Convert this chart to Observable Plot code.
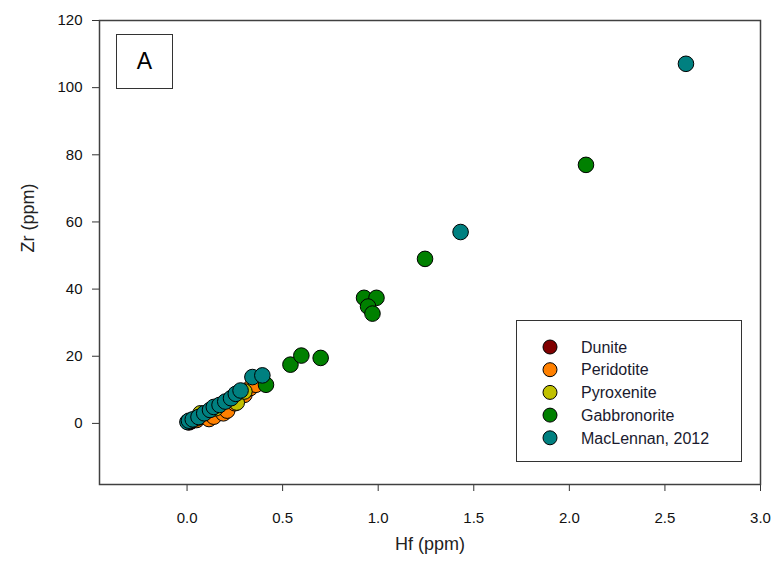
<!DOCTYPE html>
<html>
<head>
<meta charset="utf-8">
<script src="https://cdn.jsdelivr.net/npm/d3@7"></script>
<script src="https://cdn.jsdelivr.net/npm/@observablehq/plot@0.6"></script>
<style>
  html, body { margin: 0; padding: 0; background: #fff; }
  #wrap { position: relative; width: 778px; height: 565px; font-family: "Liberation Sans", Arial, sans-serif; }
  #panel { position: absolute; left: 116px; top: 34px; width: 55px; height: 53px; border: 1.5px solid #333;
           display: flex; align-items: center; justify-content: center; font-size: 23px; background: #fff; }
  #legend { position: absolute; left: 516px; top: 320px; width: 224px; height: 140px; border: 1.5px solid #333; background: #fff; }
</style>
</head>
<body>
<div id="wrap"></div>
<script>
// Categories and colours
const groups = ["Dunite", "Peridotite", "Pyroxenite", "Gabbronorite", "MacLennan, 2012"];
const colors = ["#800000", "#ff8000", "#c0c000", "#008000", "#008080"];

// Tick values
const xTicks = [0, 0.5, 1.0, 1.5, 2.0, 2.5, 3.0];
const yTicks = [0, 20, 40, 60, 80, 100, 120];

// Series values (Hf ppm, Zr ppm)
const duniteHf = [0.01, 0.02, 0.03, 0.05];
const duniteZr = [0.3, 0.6, 0.9, 1.2];

const peridotiteHf = [0.05, 0.08, 0.115, 0.14, 0.19, 0.21, 0.25, 0.30, 0.33, 0.36];
const peridotiteZr = [1.0, 2.0, 1.3, 2.0, 3.0, 3.8, 6.0, 8.5, 10.5, 11.5];

const pyroxeniteHf = [0.05, 0.07, 0.15, 0.26, 0.30];
const pyroxeniteZr = [1.5, 3.0, 4.5, 6.2, 9.5];

const gabbroHf = [0.413, 0.541, 0.598, 0.699, 0.926, 0.991, 0.947, 0.970, 1.245, 2.087];
const gabbroZr = [11.5, 17.5, 20.2, 19.5, 37.4, 37.4, 34.8, 32.7, 49.0, 77.0];

const macHf = [0.002, 0.01, 0.03, 0.06, 0.09, 0.12, 0.14, 0.17, 0.20, 0.23, 0.255, 0.28, 0.342, 0.394, 1.431, 2.61];
const macZr = [0.4, 0.8, 1.2, 1.9, 3.0, 4.0, 4.9, 5.5, 6.5, 7.5, 8.8, 9.8, 13.8, 14.3, 57.0, 107.1];

const series = [
  [groups[0], duniteHf, duniteZr],
  [groups[1], peridotiteHf, peridotiteZr],
  [groups[2], pyroxeniteHf, pyroxeniteZr],
  [groups[3], gabbroHf, gabbroZr],
  [groups[4], macHf, macZr]
];
const data = series.flatMap(([g, xs, ys]) => xs.map((x, i) => ({group: g, hf: x, zr: ys[i]})));

const chart = Plot.plot({
  width: 778,
  height: 565,
  marginLeft: 99,
  marginRight: 18,
  marginTop: 20,
  marginBottom: 81,
  style: { fontFamily: "'Liberation Sans', Arial, sans-serif", fontSize: "15px", color: "#111", background: "#fff" },
  x: { domain: [-0.458, 3.0] },
  y: { domain: [-18.2, 120] },
  color: { domain: groups, range: colors },
  marks: [
    Plot.axisX({ ticks: xTicks, tickFormat: d3.format(".1f"), tickSize: 7, tickPadding: 21, label: null, fontSize: 15, stroke: "#333" }),
    Plot.axisY({ ticks: yTicks, tickSize: 7, tickPadding: 10, label: null, fontSize: 15, stroke: "#333" }),
    Plot.frame({ stroke: "#404040", strokeWidth: 1.5 }),
    Plot.dot(data, { x: "hf", y: "zr", fill: "group", r: 7.8, stroke: "#000", strokeWidth: 1, fillOpacity: 1 }),
    Plot.text(["Hf (ppm)"], { frameAnchor: "bottom", dy: 65, text: d => d, fontSize: 18, fill: "#222" }),
    Plot.text(["Zr (ppm)"], { frameAnchor: "left", dx: -71, rotate: -90, text: d => d, fontSize: 18, fill: "#222" })
  ]
});

const wrap = document.getElementById("wrap");
wrap.appendChild(chart);

// Panel label
const panel = document.createElement("div");
panel.id = "panel";
panel.textContent = "A";
wrap.appendChild(panel);

// Legend
const legend = document.createElement("div");
legend.id = "legend";
wrap.appendChild(legend);
const lsvg = d3.select(legend).append("svg").attr("width", 224).attr("height", 140);
const row = lsvg.selectAll("g").data(groups).join("g")
  .attr("transform", (d, i) => `translate(0, ${26 + i * 22.7})`);
row.append("circle").attr("cx", 33).attr("cy", 0).attr("r", 7).attr("fill", (d, i) => colors[i]).attr("stroke", "#000").attr("stroke-width", 1);
row.append("text").attr("x", 64).attr("y", 0).attr("dy", "0.36em").attr("font-size", 16)
  .attr("font-family", "'Liberation Sans', Arial, sans-serif").attr("fill", "#1a1a2e").text(d => d);
</script>
</body>
</html>
